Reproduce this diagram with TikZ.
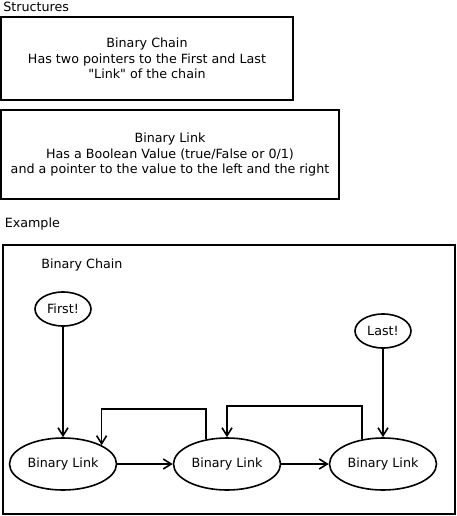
\documentclass[tikz,border=0pt]{standalone}
\usepackage{fontspec}
\setmainfont{DejaVu Sans}[Ligatures=TeXOff]
\usetikzlibrary{arrows.meta,shapes.geometric,positioning}
\begin{document}
\begin{tikzpicture}[x=1pt,y=-1pt,line join=miter,>={Straight Barb[length=8pt,width=10pt]},line width=1.6pt]
\tikzset{every node/.style={font=\fontsize{12.7}{15.5}\selectfont},
  box/.style={draw,rectangle,align=center,inner sep=0pt},
  link/.style={draw,ellipse,minimum width=107pt,minimum height=52pt,inner sep=0pt},
  ptr/.style={draw,ellipse,minimum width=56pt,minimum height=34pt,inner sep=0pt},
  lbl/.style={anchor=base west,inner sep=0pt}}
\useasboundingbox (0,0) rectangle (457,516);
\node[lbl] (structures) at (2.5,12) {Structures};
\node[box,minimum width=292pt,minimum height=83pt] (chaindef) at (147,58.5)
  {Binary Chain\\Has two pointers to the First and Last\\"Link" of the chain};
\node[box,minimum width=338pt,minimum height=89pt] (linkdef) at (170,154.5)
  {Binary Link\\Has a Boolean Value (true/False or 0/1)\\and a pointer to the value to the left and the right};
\node[lbl] (example) at (4,227) {Example};
\draw (3,245) rectangle (455,514);
\node[lbl] (chainname) at (40.5,268) {Binary Chain};
\node[ptr] (first) at (63,309) {First!};
\node[ptr] (last) at (383,331) {Last!};
\node[link] (l1) at (63,464) {Binary Link};
\node[link] (l2) at (227,464) {Binary Link};
\node[link] (l3) at (383,464) {Binary Link};
\draw[->] (first) -- (l1);
\draw[->] (last) -- (l3);
\draw[->] (l1) -- (l2);
\draw[->] (l2) -- (l3);
\draw[->] (l2.130) -- ++(0,-30) -| (l1.26);
\draw[->] (l3.130) -- ++(0,-33) -| (l2.north);
\end{tikzpicture}
\end{document}
